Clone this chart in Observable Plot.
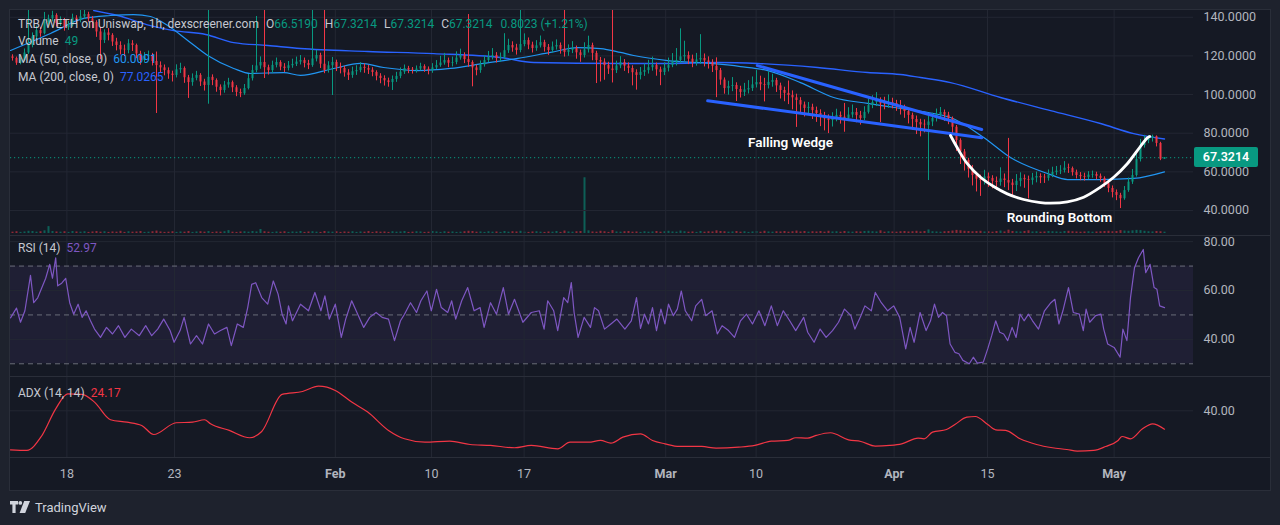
<!DOCTYPE html>
<html>
<head>
<meta charset="utf-8">
<script src="https://cdn.jsdelivr.net/npm/d3@7"></script>
<script src="https://cdn.jsdelivr.net/npm/@observablehq/plot@0.6"></script>
<style>
  html, body { margin:0; padding:0; width:1280px; height:525px; overflow:hidden; background:#1e222d; }
  body { font-family: Roboto, "Noto Sans", sans-serif; color:#c5c8d0; }
  #frame { position:absolute; left:9px; top:9px; width:1260px; height:480px; border:1px solid #2a2e39; background:#151924; overflow:hidden; }
  #frame svg { position:absolute; left:0; overflow:visible; }
  .legend { position:absolute; left:8px; font-size:12px; line-height:16px; white-space:nowrap; color:#c5c8d0; }
  .legend .k { margin-left:7px; }
  .legend .v { margin-left:6px; }
  .g { color:#089981; }
  .sep { position:absolute; left:0; width:1260px; height:1px; background:#2a2e39; }
  #pricebox { position:absolute; left:1184px; width:64px; height:20px; background:#089981; color:#fff; font-size:12.5px; font-weight:600; line-height:20px; text-align:center; border-radius:2px; }
  #footer { position:absolute; left:10px; top:499px; height:16px; display:flex; align-items:center; color:#d1d4dc; font-size:13px; }
  #footer svg { margin-right:5px; }
</style>
</head>
<body>
<div id="frame"></div>
<div id="footer"><svg width="20" height="12" viewBox="0 0 20 12"><path d="M0 0h8v3.6H5.6V12H2.4V3.6H0z" fill="#d1d4dc"/><circle cx="10.3" cy="1.9" r="1.9" fill="#d1d4dc"/><path d="M14.2 0H20L15.2 12H9.6z" fill="#d1d4dc"/></svg>TradingView</div>
<script>
// ---------------- data ----------------
const firstOpen = 119.5;
const closes = [
118.7,116.2,117.6,121.5,125.4,129.8,133.1,131.5,137.3,139.2,
140.9,136.8,138.3,134.6,135.7,139.5,138.3,140.2,141.4,139.1,
137.3,132.4,128.0,131.9,130.6,127.2,125.4,123.1,122.8,126.3,
125.4,121.0,117.6,119.8,120.2,117.1,115.0,113.8,112.4,110.6,
109.9,112.8,113.5,108.7,106.2,108.4,109.9,106.5,104.7,108.9,
107.3,103.8,102.1,104.9,106.2,103.5,101.1,100.4,103.1,108.2,
112.4,114.8,116.6,113.9,112.4,115.1,116.6,114.2,113.5,114.9,
115.6,116.8,117.6,116.1,115.0,118.4,120.2,115.7,112.4,114.9,
116.6,114.1,113.5,111.2,109.9,111.8,112.4,114.1,113.5,112.6,
111.4,109.5,108.3,107.1,106.2,107.8,109.4,111.6,113.5,112.7,
112.4,113.2,114.5,113.1,112.4,113.8,115.0,116.3,117.6,116.2,
116.6,118.9,120.2,118.1,116.6,113.8,112.4,115.3,117.6,119.4,
120.2,118.6,119.2,122.7,125.4,124.1,122.8,125.9,128.0,125.6,
123.8,125.2,126.9,124.4,122.8,124.6,125.4,123.5,121.8,122.9,
123.8,121.6,120.2,123.1,125.4,121.3,117.6,116.8,115.0,113.2,
112.4,114.8,116.6,114.7,113.5,111.3,109.9,111.5,112.4,113.9,
115.0,112.8,111.4,113.6,115.0,116.7,117.6,119.5,120.2,118.3,
116.6,117.9,118.7,117.4,116.6,114.6,112.4,107.5,103.1,104.2,
104.7,102.6,101.1,102.4,103.1,105.0,106.2,105.1,104.7,106.3,
107.3,104.5,102.1,100.6,99.5,98.3,96.9,94.6,92.8,93.4,
91.7,90.2,89.2,87.4,86.6,88.1,89.2,88.3,87.6,89.4,
90.7,89.1,87.6,90.8,94.3,95.9,96.9,95.2,94.8,95.9,
95.4,94.1,92.8,91.2,89.2,87.1,85.5,84.3,84.0,85.8,
87.6,89.6,90.7,89.3,87.6,83.1,76.2,70.3,65.9,61.4,
58.1,56.2,55.5,57.4,56.6,55.1,54.5,56.3,55.5,54.2,
52.9,55.1,56.6,55.9,55.5,56.8,57.6,56.9,56.6,58.2,
59.7,60.4,60.7,61.9,61.7,59.6,58.1,57.5,57.1,58.3,
58.6,57.7,56.6,53.8,51.4,49.3,47.8,46.1,50.3,54.7,
58.1,66.4,73.6,76.1,77.3,78.2,74.7,66.519,67.3214];
const highs = [
120.6,119.4,118.9,123.6,143.5,131.9,135.4,134.8,142.5,141.1,
143.1,141.8,140.2,139.4,137.9,141.6,140.8,143.5,143.5,142.6,
140.4,138.2,134.7,133.5,134.2,131.5,129.1,127.3,125.6,128.4,
127.9,126.1,122.4,121.7,122.5,121.3,122.0,116.9,115.3,113.8,
112.1,115.4,116.2,114.3,109.9,110.7,112.0,110.8,107.9,143.5,
110.2,108.1,105.0,106.8,108.4,107.0,104.6,102.8,105.2,110.4,
115.1,140.4,119.5,143.5,115.2,117.3,118.9,117.5,116.0,117.1,
118.3,119.4,120.2,118.9,117.7,143.5,122.8,121.4,143.5,117.0,
119.2,117.8,116.3,114.6,112.9,114.2,114.9,116.5,115.8,115.1,
113.9,112.3,110.8,109.7,108.5,109.6,111.5,113.8,115.3,114.6,
114.0,114.8,116.2,115.4,114.3,116.0,117.6,119.8,121.3,118.9,
119.4,122.1,123.5,121.6,141.4,117.5,115.2,117.4,120.1,122.3,
123.8,121.7,121.5,131.5,128.6,127.3,126.0,143.5,131.4,129.3,
127.1,127.9,130.3,128.1,125.9,127.2,128.3,126.7,143.5,125.7,
127.4,125.1,123.0,126.8,130.2,126.6,122.4,119.2,118.5,116.7,
143.5,117.3,119.6,118.1,116.4,114.9,112.8,114.0,115.8,117.7,
119.4,116.3,114.2,116.4,118.9,121.2,123.8,134.0,127.6,122.1,
120.4,121.3,131.0,121.0,119.5,118.0,119.0,113.5,108.6,106.9,
108.8,106.1,104.3,105.8,107.2,109.1,112.4,109.5,108.4,111.8,
110.5,108.4,105.9,103.8,107.0,101.9,100.2,98.4,96.1,95.9,
95.0,93.5,92.1,90.8,89.5,90.6,92.4,91.0,95.4,93.2,
94.6,92.8,91.3,93.7,97.6,99.4,101.0,98.3,98.6,99.8,
98.1,97.0,96.9,94.5,92.6,90.4,88.9,87.2,86.9,88.7,
90.3,92.5,93.3,92.0,90.8,88.4,84.0,77.1,71.6,67.0,
63.3,59.5,58.3,60.8,59.4,58.0,57.3,62.1,58.9,77.3,
56.1,58.6,59.5,58.4,57.8,59.2,59.9,59.0,58.7,61.0,
62.4,62.8,63.2,65.3,64.0,62.5,60.9,59.6,59.3,60.1,
60.4,59.8,58.9,57.4,54.6,52.7,50.6,48.9,52.4,56.8,
61.2,69.5,76.8,78.9,78.8,79.0,78.6,75.3,67.3214];
const lows = [
117.3,115.1,115.4,116.9,120.8,124.2,128.6,129.7,130.9,135.8,
137.6,134.9,135.3,132.8,133.2,134.9,136.4,137.1,139.0,137.5,
134.1,129.6,118.0,126.4,127.8,124.9,122.6,120.5,119.7,121.1,
122.3,118.6,115.2,116.3,117.4,114.8,90.2,111.2,109.7,107.9,
106.5,108.6,110.9,105.8,98.0,104.3,107.1,104.2,101.8,95.0,
104.6,101.2,99.3,100.7,103.3,101.0,98.9,98.4,99.6,102.4,
107.0,111.3,113.1,108.3,110.1,111.0,113.8,112.3,111.4,112.2,
113.6,114.5,115.3,113.8,112.9,114.1,116.9,113.5,110.8,111.1,
99.5,111.9,110.7,109.0,107.3,108.4,109.9,111.3,111.0,110.4,
109.2,107.1,105.6,104.4,103.8,102.1,106.3,108.2,110.4,110.8,
110.6,111.1,112.3,111.5,110.2,111.0,112.9,114.1,115.2,113.9,
114.3,115.4,117.8,116.0,114.1,104.0,109.7,111.0,114.2,116.5,
117.9,116.3,116.8,118.1,121.3,121.9,120.4,121.6,124.7,123.2,
121.5,122.4,124.1,122.0,120.3,121.4,123.0,120.9,119.4,119.8,
121.2,118.3,116.7,118.9,121.5,117.5,105.7,106.5,107.4,110.4,
106.0,110.9,113.4,112.0,110.8,104.5,102.3,107.6,109.4,110.6,
112.1,109.5,104.6,109.8,111.7,113.9,114.8,116.2,117.0,115.5,
113.9,114.7,115.6,114.3,113.2,111.4,98.4,104.8,100.2,99.7,
101.5,96.4,98.2,99.0,100.3,101.6,103.4,102.0,96.2,102.9,
103.8,101.1,97.7,96.3,94.8,92.1,83.0,90.3,88.4,89.6,
87.1,85.6,83.4,81.2,79.8,83.2,85.9,84.7,80.5,86.0,
87.8,85.4,84.2,86.5,89.9,92.7,93.8,85.5,92.1,92.9,
92.6,91.3,89.4,87.7,84.8,81.5,79.3,78.1,80.2,55.5,
83.4,85.8,87.2,86.1,84.4,79.2,70.5,63.8,60.4,56.8,
52.7,49.6,47.3,53.2,52.0,51.2,50.4,52.6,51.8,50.3,
47.4,49.8,52.2,51.5,46.0,53.1,54.3,53.9,54.0,55.2,
57.0,58.1,58.6,59.4,59.2,57.8,56.3,55.4,55.2,56.0,
56.7,55.9,54.6,51.9,49.2,46.5,45.1,41.0,45.3,49.4,
53.5,57.3,65.1,72.3,74.6,75.4,72.9,65.8,66.519];
const vols = [
0.6,0.8,0.5,0.7,1.0,0.9,0.6,0.8,1.2,3.1,
0.9,0.7,0.6,0.8,0.5,0.9,0.7,0.6,0.8,0.5,
0.7,0.9,0.6,0.8,0.5,0.7,0.6,1.0,0.5,0.8,
0.6,0.7,0.9,0.5,0.6,0.8,1.1,0.7,0.5,0.6,
0.8,0.5,0.7,0.6,0.9,0.5,0.7,0.8,0.6,0.9,
0.5,0.7,0.6,0.8,1.3,0.6,0.5,0.7,0.8,0.6,
0.9,0.7,1.8,0.8,0.6,0.5,0.7,0.6,0.8,0.5,
0.7,0.6,0.9,0.5,0.7,0.8,0.6,0.5,0.9,0.7,
0.6,0.8,0.5,0.7,0.6,0.8,0.5,0.7,0.6,0.9,
0.5,0.8,0.6,0.7,0.5,0.8,0.6,0.7,0.9,0.5,
0.6,0.8,0.7,0.5,0.6,0.9,0.7,0.5,0.8,0.6,
0.7,0.5,0.6,0.8,1.0,0.9,0.6,0.7,0.5,0.8,
0.6,0.7,0.5,0.9,0.6,0.8,0.7,1.0,0.6,0.5,
0.7,0.8,0.6,0.5,0.7,0.6,0.9,0.5,1.1,0.7,
0.6,0.8,0.9,25,1.2,0.7,0.6,1.0,0.8,0.5,
1.3,0.7,0.6,0.8,0.9,0.6,0.7,0.5,0.8,0.6,
0.7,0.9,0.6,0.8,1.0,0.7,0.6,1.1,0.8,0.6,
0.7,0.5,0.9,0.6,0.8,0.7,1.2,0.9,0.8,0.6,
0.7,0.9,0.6,0.8,0.5,0.7,0.9,0.6,1.0,0.7,
0.6,0.8,0.7,0.9,0.6,0.8,1.1,0.7,0.9,0.6,
0.8,0.7,0.9,0.6,1.0,0.7,0.8,0.6,0.9,0.7,
0.6,0.8,0.7,0.9,1.0,0.8,0.7,1.2,0.6,0.8,
0.7,0.6,0.8,0.9,0.7,0.8,1.0,0.7,0.9,1.6,
0.8,0.7,0.6,0.8,0.9,1.1,1.4,1.2,1.0,0.9,
0.8,0.9,1.0,0.7,0.8,0.6,0.9,1.1,0.7,1.5,
0.9,0.8,0.7,0.9,1.2,0.7,0.8,0.6,0.7,0.9,
0.8,0.7,0.6,0.9,1.0,0.8,0.7,0.6,0.7,0.8,
0.6,0.7,0.8,0.9,1.0,0.8,0.9,1.3,1.1,1.0,
1.2,1.4,1.3,1.0,0.8,0.7,0.9,0.8,0.6];
// [bar, value]
const ma50 = [[-0.5,122.8],[9.5,131.6],[17.8,139.4],[24.5,140.9],[30.3,141.4],[34.5,140.4],[38.8,135.7],[43.8,128],[48.8,120.2],[55.3,113.5],[59.5,110.9],[67.8,111.4],[72,109.9],[80.3,113.5],[87,116.1],[92.8,114],[101.3,112.4],[109.5,113.5],[117.8,116.1],[126.3,118.7],[134.5,121.8],[141.3,124.3],[147,123.8],[152,121.8],[155.3,120.2],[163.8,117.6],[174.5,116.1],[182,114.5],[188.8,112.4],[197,106.2],[205.3,98.5],[213.8,95.4],[222,92.8],[230.3,90.2],[234.5,88.1],[242.8,77.8],[249.5,67.4],[258.8,59.1],[263.8,56],[272,56],[280.3,56.6],[288,60.0091]];
const ma200 = [[20.3,143.5],[26.3,140.9],[34.5,135.7],[40.3,133.1],[48.3,131.1],[55.3,126.9],[63.8,125.4],[72,123.8],[88.8,122.3],[105.3,121.2],[122,119.2],[130.3,116.6],[152,116.1],[163.8,116.1],[176.3,116.6],[186.3,116.1],[201.3,114],[213.8,111.4],[222,110.4],[227,108.8],[234.5,106.2],[247,98.5],[259.5,91.7],[272,85],[280.3,79.8],[288,77.0265]];
const rsi = [[-0.5,48.8],[1,52.8],[2,47],[3.1,51.7],[4.5,66.2],[5.3,55],[6.3,57],[7.3,61],[8.3,65],[9.3,70.7],[10,65],[10.8,73.4],[11.3,61.9],[12.3,63],[13.3,65],[14.3,55],[15.3,50.3],[16.4,54.4],[17.4,49],[18.4,51.7],[19.5,47.6],[20.5,44.2],[22,40.8],[23.5,44.9],[25,42.2],[26.5,45.6],[28.1,40.8],[29.7,44.2],[31.7,41.5],[33.3,45.6],[34.8,41.5],[36.3,44.2],[37.8,48.3],[39.4,43.6],[40.4,38.8],[41.9,43.6],[42.9,49],[44.5,38.1],[46,41.5],[47.5,38.1],[49,46.3],[50.5,42.2],[52,43.6],[53.6,44.9],[54.7,37.4],[56.2,46.3],[57.7,44.9],[58.8,53],[59.8,62.5],[60.8,63.2],[62.3,57.1],[63.8,54.4],[65.2,63.9],[66.4,58.5],[67.4,50.3],[68.4,46.3],[69,53.7],[70,47.6],[72,54.4],[74,51.7],[75.6,59.2],[77.1,51.7],[78.1,57.8],[79.2,48.3],[80.7,54.4],[82.2,40.8],[83.3,48.3],[84.8,55.8],[86.3,50.3],[87.8,44.9],[89.3,49],[90.9,51],[92.4,49],[94,48.3],[95.5,39.5],[97,47.6],[98,50.3],[99.5,55],[101,51],[102.1,55.8],[103.6,59.8],[104.7,51.7],[106,60.5],[107.2,53],[108.8,51],[109.8,55.8],[110.8,48.3],[112.3,55.8],[113.8,61.2],[115.4,51.7],[116.9,53],[117.9,44.9],[119.5,55],[121,50.3],[122.7,61.2],[124,50.3],[125.5,56.4],[127.6,47],[129.7,51],[131.7,51.7],[132.9,44.2],[133.8,55.8],[135.3,51.7],[136.3,43.6],[137.8,57.1],[138.8,55],[139.7,63.2],[140.4,51],[141.4,40.8],[142.9,49],[144.5,44.9],[145.5,53],[146.5,51.7],[148,44.2],[149.6,46.3],[151.1,48.3],[153.1,44.2],[154.7,47.6],[156,57.1],[157,44.5],[158,50.3],[159,46.3],[160,53],[161,43.6],[162.1,52.4],[163.1,46.3],[164,54.4],[165.2,49.7],[166.2,52.4],[167.2,59.8],[168.2,51.7],[169.8,47.6],[170.8,53.7],[172.3,56.4],[173.3,49.7],[174.9,51.7],[176.2,42.2],[177.4,45.6],[179,43.6],[180.5,40.8],[182,47.6],[183.5,50.3],[185,46.3],[186.6,51.7],[188.1,45.6],[189.7,53.7],[191.2,45.6],[192.7,51.7],[194.3,47.6],[195.8,43.6],[197.8,49],[198.8,42.9],[200.4,38.8],[201.9,44.2],[203.4,40.8],[205,43.6],[206.5,47],[208,52.4],[209.6,49.7],[210.6,44.2],[212.1,49.7],[213.1,53.7],[214.7,51.7],[215.7,59.2],[217.2,55],[218.8,51.7],[220.3,53.7],[221.8,49],[223.3,36.1],[224.4,44.9],[225.4,38.8],[226.9,51],[228.4,43.6],[229.5,47.6],[230.5,54.4],[231.5,49],[232.5,51],[233.5,49.7],[234.4,38.1],[235.6,34.7],[236.6,34.1],[237.6,31.4],[239.2,30],[240.2,32.7],[241.2,30.3],[242.7,30.7],[243.8,36.1],[244.8,41.5],[245.8,47.6],[246.8,42.9],[247.8,42.2],[248.8,39.5],[249.9,44.9],[250.9,40.8],[251.9,50.3],[252.9,47.6],[254,50.3],[255,47.6],[256.5,44.2],[258,51.7],[259.6,55],[260.6,56.4],[261.6,46.3],[262.6,51.7],[264,61.2],[265.2,51],[266.7,50.3],[267.7,43.6],[268.4,52.4],[269.3,47],[270.8,49.7],[272.1,50.3],[272.8,44.2],[273.8,38.1],[275.4,36.7],[276.9,32.7],[277.6,44.2],[278.6,39.5],[279.5,57.1],[280.5,69.3],[281.5,73.4],[282.7,76.8],[283.3,67.3],[284.4,70.7],[285.4,61.2],[286.1,60.5],[286.8,53.7],[288,52.97]];
const adx = [[-0.5,6.4],[3.6,5.9],[7.2,17.9],[10.8,41.7],[13.8,54.6],[17.4,54.1],[20.5,47.5],[24.5,32.3],[28.6,30.2],[32.3,27.4],[35.3,19.6],[40.9,29.7],[45,30.2],[48,32.3],[49.5,28.8],[54.2,23.1],[59.3,16.8],[62.3,22.2],[67.4,54.1],[72.5,56.6],[76.5,61.2],[78.6,60.4],[80.7,57.5],[84.8,47.5],[88.8,38.9],[94,23.1],[98,15.9],[103.1,13],[109.3,13.9],[114.4,11],[119.5,10.2],[125.5,8.2],[129.7,10.2],[136.3,7.3],[139.4,13],[144,13],[147,14.5],[149.6,12.2],[152.6,17.3],[157,20.2],[160,14.5],[163.1,11.6],[166.7,9.3],[172.3,9.3],[175.9,7.9],[181.5,8.7],[185.6,10.2],[189.7,13.9],[193.8,14.5],[195.8,16.8],[198.8,16.5],[200.9,18.8],[204.5,21.1],[209,15],[212.1,13.6],[215.7,9.6],[219.3,10.2],[222.3,11.6],[226.4,16.5],[227.9,15.9],[230,21.6],[233.5,23.9],[235.6,28.2],[238.6,34.5],[240.7,35.1],[243.8,28.2],[245.8,23.6],[248.3,23.1],[251.9,15.9],[256,11],[260,8.2],[263.6,6.7],[266.2,5.3],[270.3,5.9],[273.3,9.3],[276.4,14.5],[277.4,17.9],[279.5,15.9],[282.5,24.5],[285,28.8],[288,24.17]];
const wedgeUpper = [[186.2,115.0],[242.3,81.9]];
const wedgeLower = [[173.8,96.8],[242.3,77.6]];
const roundBottom = [[234.5,78.8],[236.6,71.0],[238.7,64.2],[242,57.2],[245.3,52.4],[248.7,48.6],[252.8,45.7],[257,44.1],[259.5,43.8],[263.7,44.5],[267.8,46.9],[272,52.1],[275.3,57.2],[278.7,64.2],[281.2,71.0],[283.7,77.6],[284.3,78.3]];
const notes = [{bar:194.5, price:75.2, text:"Falling Wedge"}, {bar:261.75, price:36.4, text:"Rounding Bottom"}];
const priceTicks = [40,60,80,100,120,140];
const rsiGridTicks = [40,60,80];
const rsiLevels = [30,50,70];
const adxTicks = [40];
const dateTicks = [13.6,40.5,80.7,104.75,127.9,163.3,185.9,220.4,243.75,275.4];
const dateLabels = ["18","23","Feb","10","17","Mar","10","Apr","15","May"];
const monthNames = ["Feb","Mar","Apr","May"];
const lastPrice = 67.3214;

// ---------------- drawing ----------------
const UP = "#089981", DOWN = "#f23645", GRID = "#232733", AXIS = "#b2b5be";
const W = 1260, MR = 77;
const xDomain = [-0.5, 295.25];
const FONT = "Roboto, 'Noto Sans', sans-serif";
const baseStyle = {background: "transparent", fontFamily: FONT, fontSize: "12.5px", color: AXIS, overflow: "visible"};
const frame = document.getElementById("frame");

const candles = closes.map((c, i) => {
  const o = i === 0 ? firstOpen : closes[i - 1];
  return {i, o, c, h: highs[i], l: lows[i], v: vols[i], col: c >= o ? UP : DOWN};
});
const P = d => d[0], V = d => d[1];
const xOpt = {domain: xDomain, axis: null};
const gridX = () => Plot.gridX(dateTicks, {stroke: GRID, strokeOpacity: 1});

// volume overlay
const volPlot = Plot.plot({
  width: W, height: 225, marginLeft: 0, marginRight: MR, marginTop: 0, marginBottom: 2,
  x: xOpt, y: {domain: [0, 100], axis: null}, style: baseStyle,
  marks: [
    Plot.ruleX(candles, {x: "i", y1: () => 0, y2: "v", stroke: d => d.col, strokeOpacity: 0.55, strokeWidth: 2})
  ]
});

// price pane
const pricePlot = Plot.plot({
  width: W, height: 225, marginLeft: 0, marginRight: MR, marginTop: 0, marginBottom: 0,
  x: xOpt, y: {domain: [27.06, 143.5], axis: null}, style: baseStyle,
  marks: [
    Plot.gridY(priceTicks, {stroke: GRID, strokeOpacity: 1}),
    gridX(),
    Plot.axisY(priceTicks, {anchor: "right", tickSize: 0, tickPadding: 10, tickFormat: d => d.toFixed(4), color: AXIS, fontSize: 12.5}),
    Plot.ruleY([lastPrice], {stroke: UP, strokeDasharray: "1.2,2.8", strokeWidth: 1}),
    Plot.line(ma200, {x: P, y: V, stroke: "#2962ff", strokeWidth: 1.4, curve: "monotone-x", clip: true}),
    Plot.line(ma50, {x: P, y: V, stroke: "#2196f3", strokeWidth: 1.2, curve: "monotone-x", clip: true}),
    Plot.ruleX(candles, {x: "i", y1: "l", y2: "h", stroke: d => d.col, strokeWidth: 1, clip: true}),
    Plot.ruleX(candles, {x: "i", y1: "o", y2: d => Math.abs(d.c - d.o) < 0.35 ? d.o + 0.35 : d.c, stroke: d => d.col, strokeWidth: 2, clip: true}),
    Plot.line(wedgeUpper, {x: P, y: V, stroke: "#2962ff", strokeWidth: 3, strokeLinecap: "round"}),
    Plot.line(wedgeLower, {x: P, y: V, stroke: "#2962ff", strokeWidth: 3, strokeLinecap: "round"}),
    Plot.line(roundBottom, {x: P, y: V, stroke: "#ffffff", strokeWidth: 2.8, curve: "catmull-rom", strokeLinecap: "round"}),
    Plot.text(notes, {x: "bar", y: "price", text: "text", fill: "#ffffff", fontSize: 13.5, fontWeight: 600, stroke: "#151924", strokeWidth: 3, paintOrder: "stroke"})
  ]
});

// RSI pane
const rsiPlot = Plot.plot({
  width: W, height: 140, marginLeft: 0, marginRight: MR, marginTop: 0, marginBottom: 0,
  x: xOpt, y: {domain: [24.8, 82.1], axis: null}, style: baseStyle,
  marks: [
    Plot.rect([rsiLevels], {x1: () => xDomain[0], x2: () => xDomain[1], y1: d => d[0], y2: d => d[2], fill: "#7e57c2", fillOpacity: 0.1}),
    Plot.gridY(rsiGridTicks, {stroke: GRID, strokeOpacity: 1}),
    gridX(),
    Plot.ruleY(rsiLevels, {stroke: "#787b86", strokeDasharray: "5,4", strokeOpacity: 0.85}),
    Plot.line(rsi, {x: P, y: V, stroke: "#7e57c2", strokeWidth: 1.2, clip: true}),
    Plot.axisY(rsiGridTicks, {anchor: "right", tickSize: 0, tickPadding: 10, tickFormat: d => d.toFixed(2), color: AXIS, fontSize: 12.5})
  ]
});

// ADX pane + time axis
const labelOf = d => dateLabels[dateTicks.indexOf(d)];
const dayTicks = dateTicks.filter(d => !monthNames.includes(labelOf(d)));
const monTicks = dateTicks.filter(d => monthNames.includes(labelOf(d)));
const adxPlot = Plot.plot({
  width: W, height: 113, marginLeft: 0, marginRight: MR, marginTop: 0, marginBottom: 33,
  x: {domain: xDomain}, y: {domain: [-0.19, 68.66], axis: null}, style: baseStyle,
  marks: [
    Plot.gridY(adxTicks, {stroke: GRID, strokeOpacity: 1}),
    gridX(),
    Plot.line(adx, {x: P, y: V, stroke: "#f23645", strokeWidth: 1.2, curve: "monotone-x", clip: true}),
    Plot.axisY(adxTicks, {anchor: "right", tickSize: 0, tickPadding: 10, tickFormat: d => d.toFixed(2), color: AXIS, fontSize: 12.5}),
    Plot.axisX(dayTicks, {anchor: "bottom", tickSize: 0, tickPadding: 12, tickFormat: labelOf, color: AXIS, fontSize: 12.5, label: null}),
    Plot.axisX(monTicks, {anchor: "bottom", tickSize: 0, tickPadding: 12, tickFormat: labelOf, color: AXIS, fontSize: 12.5, fontWeight: "bold", label: null})
  ]
});

function place(el, top) { el.style.top = top + "px"; frame.appendChild(el); }
place(volPlot, 0);
place(pricePlot, 0);
place(rsiPlot, 226);
place(adxPlot, 367);

function sep(top) { const d = document.createElement("div"); d.className = "sep"; d.style.top = top + "px"; frame.appendChild(d); }
sep(225); sep(366); sep(447);

// last price box on the right scale
const box = document.createElement("div");
box.id = "pricebox";
box.textContent = lastPrice.toFixed(4);
box.style.top = (pricePlot.scale("y").apply(lastPrice) - 10) + "px";
frame.appendChild(box);

// legends
function legend(top, html) { const d = document.createElement("div"); d.className = "legend"; d.style.top = top + "px"; d.innerHTML = html; frame.appendChild(d); }
legend(6, 'TRB/WETH on Uniswap, 1h, dexscreener.com<span class="k">O</span><span class="g">66.5190</span><span class="k">H</span><span class="g">67.3214</span><span class="k">L</span><span class="g">67.3214</span><span class="k">C</span><span class="g">67.3214</span><span class="g" style="margin-left:8px">0.8023 (+1.21%)</span>');
legend(23, 'Volume<span class="v g">49</span>');
legend(41, 'MA (50, close, 0)<span class="v" style="color:#2196f3">60.0091</span>');
legend(59, 'MA (200, close, 0)<span class="v" style="color:#2962ff">77.0265</span>');
legend(230, 'RSI (14)<span class="v" style="color:#7e57c2">52.97</span>');
legend(375, 'ADX (14, 14)<span class="v" style="color:#f23645">24.17</span>');
</script>
</body>
</html>
